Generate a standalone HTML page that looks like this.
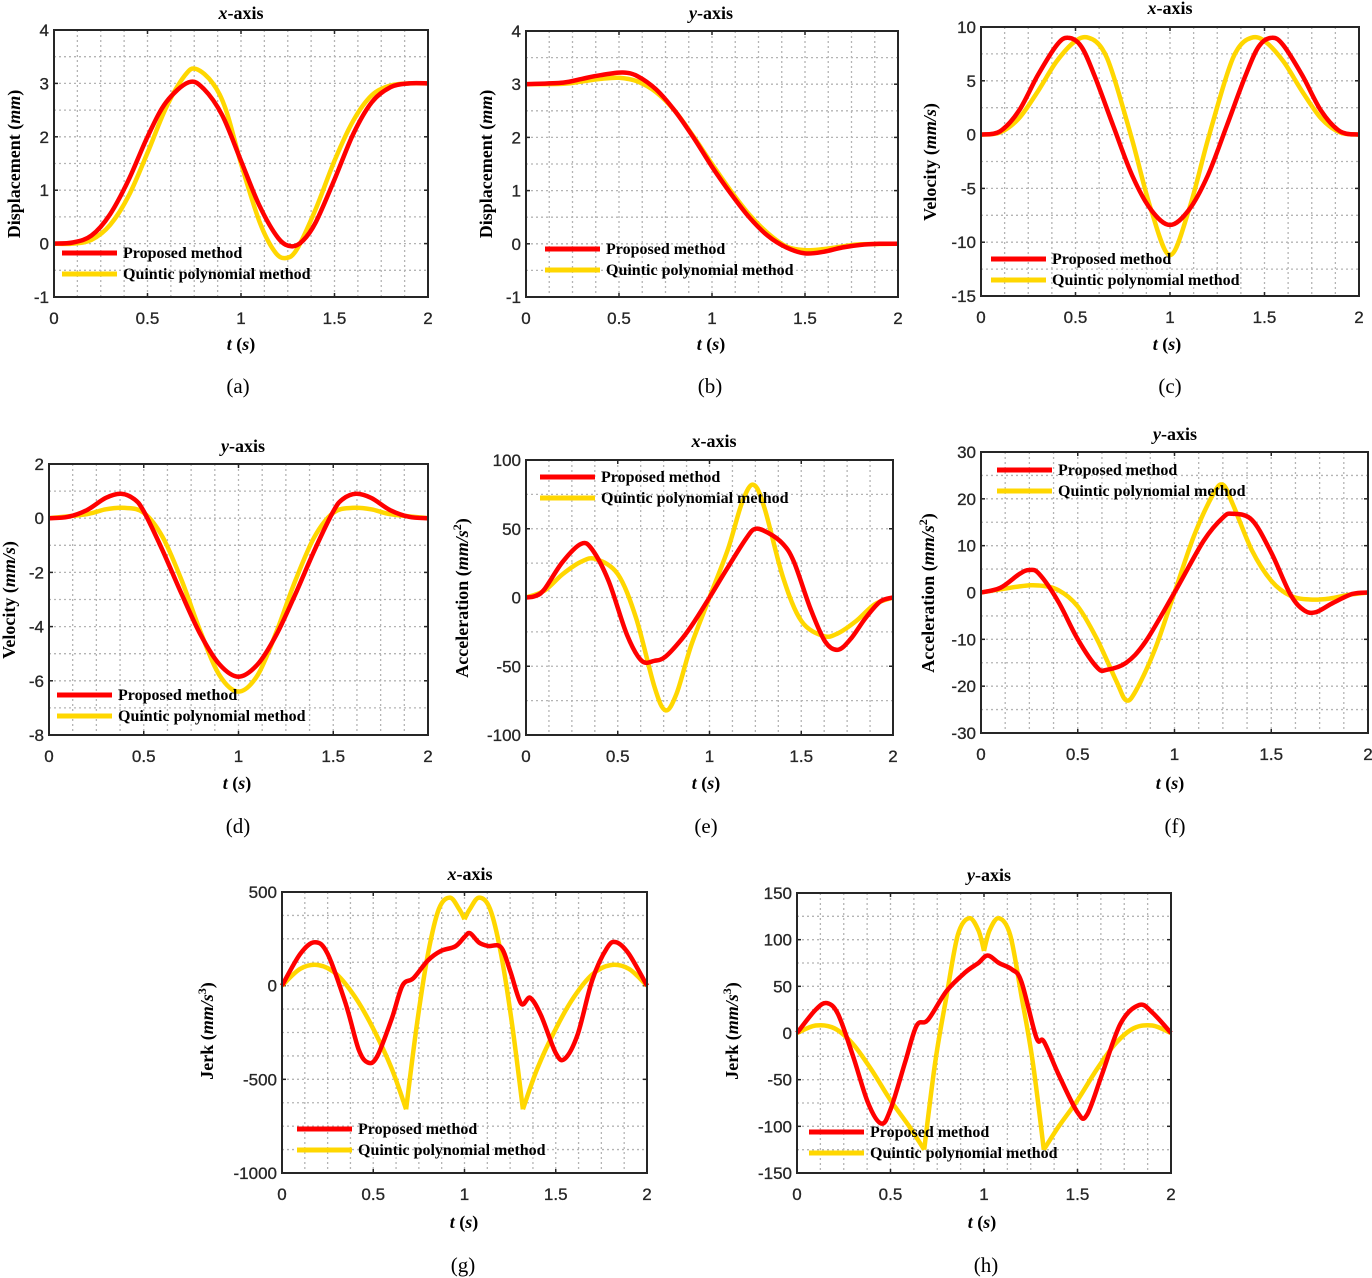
<!DOCTYPE html>
<html><head><meta charset="utf-8">
<style>
html,body{margin:0;padding:0;background:#fff;}
svg{display:block;}
.tk{font-family:"Liberation Sans",Arial,sans-serif;font-size:17px;fill:#262626;stroke:#262626;stroke-width:0.3px;}
.tm{font-family:"Liberation Serif","Times New Roman",serif;font-weight:bold;font-size:18px;fill:#000;}
.lg{font-family:"Liberation Serif","Times New Roman",serif;font-weight:bold;font-size:16px;fill:#000;}
.cap{font-family:"Liberation Serif","Times New Roman",serif;font-size:21px;fill:#000;}
</style></head>
<body>
<svg id="s" width="1372" height="1278" viewBox="0 0 1372 1278" xmlns="http://www.w3.org/2000/svg"></svg>
<script>
const NS="http://www.w3.org/2000/svg";
const S=document.getElementById('s');
function el(t,a,p){const e=document.createElementNS(NS,t);for(const k in a)e.setAttribute(k,a[k]);(p||S).appendChild(e);return e;}
function txt(x,y,html,cls,extra){const e=el('text',Object.assign({x:x,y:y,'class':cls},extra||{}));e.innerHTML=html;return e;}
function sym(pts){const out=pts.slice();for(let i=pts.length-1;i>=0;i--){const [t,v]=pts[i];if(t<1)out.push([2-t,v]);}return out;}
function path(pts,X,Y){
  let d='M'+X(pts[0][0]).toFixed(1)+','+Y(pts[0][1]).toFixed(1);
  for(let i=0;i<pts.length-1;i++){
    const p0=pts[Math.max(0,i-1)],p1=pts[i],p2=pts[i+1],p3=pts[Math.min(pts.length-1,i+2)];
    const x1=X(p1[0]),y1=Y(p1[1]),x2=X(p2[0]),y2=Y(p2[1]);
    const x0=X(p0[0]),y0=Y(p0[1]),x3=X(p3[0]),y3=Y(p3[1]);
    const c1x=x1+(x2-x0)/6,c1y=y1+(y2-y0)/6,c2x=x2-(x3-x1)/6,c2y=y2-(y3-y1)/6;
    d+=' C'+c1x.toFixed(1)+','+c1y.toFixed(1)+' '+c2x.toFixed(1)+','+c2y.toFixed(1)+' '+x2.toFixed(1)+','+y2.toFixed(1);
  }
  return d;
}
const P=[
{b:[54,30,428,297],y:[-1,4],mj:1,mn:0.5,title:'<tspan font-style="italic">x</tspan>-axis',tp:[241,19],yl:'Displacement  (<tspan font-style="italic">mm</tspan>)',ylp:[20,164],xlp:[241,350],cap:['(a)',238,393],lg:[62,253],
 red:[[[0,0],[0.1,0.02],[0.2,0.15],[0.3,0.55],[0.4,1.2],[0.5,2.0],[0.6,2.65],[0.72,3.02],[0.8,2.9],[0.9,2.4],[1.0,1.55],[1.1,0.7],[1.2,0.1],[1.27,-0.05],[1.33,0.05],[1.4,0.4],[1.5,1.2],[1.6,2.05],[1.7,2.65],[1.8,2.93],[1.9,3.0],[2,3.0]]],
 yel:[[[0,0],[0.1,0],[0.2,0.07],[0.3,0.35],[0.4,0.9],[0.5,1.7],[0.6,2.55],[0.7,3.15],[0.76,3.27],[0.85,3.0],[0.92,2.5],[1.0,1.5],[1.1,0.4],[1.18,-0.15],[1.24,-0.27],[1.3,-0.1],[1.4,0.65],[1.5,1.55],[1.6,2.3],[1.7,2.78],[1.8,2.96],[1.9,3.0],[2,3]]]},
{b:[526,31,898,297],y:[-1,4],mj:1,mn:0.5,title:'<tspan font-style="italic">y</tspan>-axis',tp:[711,19],yl:'Displacement  (<tspan font-style="italic">mm</tspan>)',ylp:[492,164],xlp:[711,350],cap:['(b)',710,393],lg:[545,249],
 red:[[[0,3],[0.2,3.03],[0.3,3.1],[0.4,3.17],[0.52,3.22],[0.6,3.15],[0.7,2.9],[0.8,2.5],[0.9,2.0],[1.0,1.45],[1.1,0.95],[1.2,0.5],[1.3,0.15],[1.4,-0.07],[1.5,-0.18],[1.6,-0.15],[1.7,-0.07],[1.8,-0.02],[1.9,0],[2,0]]],
 yel:[[[0,3],[0.2,3.01],[0.3,3.05],[0.4,3.1],[0.5,3.12],[0.6,3.05],[0.7,2.85],[0.8,2.5],[0.9,2.02],[1.0,1.5],[1.1,1.0],[1.2,0.55],[1.3,0.2],[1.4,-0.05],[1.5,-0.12],[1.6,-0.1],[1.7,-0.05],[1.8,-0.01],[2,0]]]},
{b:[981,27,1359,296],y:[-15,10],mj:5,mn:2.5,title:'<tspan font-style="italic">x</tspan>-axis',tp:[1170,14],yl:'Velocity  (<tspan font-style="italic">mm/s</tspan>)',ylp:[936,162],xlp:[1167,350],cap:['(c)',1170,393],lg:[991,259],
 red:[sym([[0,0],[0.1,0.3],[0.2,2.2],[0.3,5.5],[0.4,8.3],[0.46,9],[0.53,8.2],[0.6,5.5],[0.7,0.8],[0.8,-3.8],[0.9,-7],[1.0,-8.4]])],
 yel:[sym([[0,0],[0.1,0.2],[0.2,1.5],[0.3,4],[0.4,6.8],[0.5,8.7],[0.57,9.0],[0.64,8],[0.7,5.5],[0.8,-0.5],[0.9,-7],[1.0,-11.2]])]},
{b:[49,464,428,735],y:[-8,2],mj:2,mn:1,title:'<tspan font-style="italic">y</tspan>-axis',tp:[243,452],yl:'Velocity  (<tspan font-style="italic">mm/s</tspan>)',ylp:[15,600],xlp:[237,789],cap:['(d)',238,833],lg:[57,695],
 red:[sym([[0,0],[0.1,0.05],[0.2,0.3],[0.3,0.75],[0.38,0.9],[0.45,0.7],[0.5,0.25],[0.6,-1.2],[0.7,-2.8],[0.8,-4.3],[0.9,-5.4],[1,-5.85]])],
 yel:[sym([[0,0],[0.2,0.15],[0.3,0.33],[0.4,0.38],[0.5,0.2],[0.6,-0.7],[0.7,-2.3],[0.8,-4.2],[0.9,-5.8],[1,-6.4]])]},
{b:[526,460,893,735],y:[-100,100],mj:50,mn:25,title:'<tspan font-style="italic">x</tspan>-axis',tp:[714,447],yl:'Acceleration  (<tspan font-style="italic">mm/s</tspan><tspan dy="-7" font-size="12">2</tspan><tspan dy="7">)</tspan>',ylp:[468,598],xlp:[706,789],cap:['(e)',706,833],lg:[540,477],
 red:[[[0,0],[0.05,1],[0.1,6],[0.2,26],[0.3,39],[0.36,35],[0.45,12],[0.55,-27],[0.63,-46],[0.7,-46],[0.76,-43],[0.85,-30],[0.92,-17],[1.0,0],[1.1,22],[1.2,43],[1.25,50],[1.32,47],[1.4,39],[1.46,26],[1.55,-8],[1.63,-32],[1.7,-38],[1.77,-30],[1.85,-15],[1.93,-3],[2,0]]],
 yel:[[[0,0],[0.1,5],[0.2,17],[0.3,26],[0.38,28],[0.5,17],[0.6,-15],[0.7,-65],[0.76,-82],[0.82,-70],[0.9,-35],[1.0,0],[1.1,35],[1.18,70],[1.24,82],[1.3,65],[1.4,15],[1.5,-17],[1.62,-28],[1.7,-26],[1.8,-17],[1.9,-5],[2,0]]]},
{b:[981,452,1368,733],y:[-30,30],mj:10,mn:5,title:'<tspan font-style="italic">y</tspan>-axis',tp:[1175,440],yl:'Acceleration  (<tspan font-style="italic">mm/s</tspan><tspan dy="-7" font-size="12">2</tspan><tspan dy="7">)</tspan>',ylp:[934,593],xlp:[1170,789],cap:['(f)',1175,833],lg:[997,470],
 red:[[[0,0],[0.1,1],[0.2,4],[0.25,4.8],[0.3,4],[0.4,-2],[0.5,-10],[0.6,-16],[0.65,-16.5],[0.75,-15],[0.85,-10.5],[1.0,0],[1.15,11],[1.25,16],[1.3,16.8],[1.4,15.5],[1.5,8.5],[1.6,-0.5],[1.67,-3.8],[1.73,-4.2],[1.82,-2.2],[1.92,-0.3],[2,0]]],
 yel:[[[0,0],[0.2,1.3],[0.3,1.5],[0.4,0.5],[0.5,-3],[0.6,-10],[0.7,-19],[0.75,-23],[0.8,-21],[0.9,-12],[1,0],[1.1,12],[1.2,21],[1.25,23],[1.3,19],[1.4,9],[1.5,2.5],[1.6,-0.7],[1.7,-1.5],[1.8,-1.3],[1.9,-0.5],[2,0]]]},
{b:[282,892,647,1173],y:[-1000,500],mj:500,mn:125,title:'<tspan font-style="italic">x</tspan>-axis',tp:[470,880],yl:'Jerk  (<tspan font-style="italic">mm/s</tspan><tspan dy="-7" font-size="12">3</tspan><tspan dy="7">)</tspan>',ylp:[213,1031],xlp:[464,1228],cap:['(g)',463,1272],lg:[297,1129],
 red:[[[0,0],[0.1,170],[0.18,232],[0.25,170],[0.35,-100],[0.42,-340],[0.47,-410],[0.52,-380],[0.6,-180],[0.66,0],[0.72,40],[0.8,135],[0.87,185],[0.95,210],[1.0,260],[1.03,280],[1.08,230],[1.13,212],[1.2,205],[1.25,80],[1.31,-95],[1.36,-65],[1.42,-160],[1.5,-360],[1.55,-390],[1.62,-260],[1.7,30],[1.78,200],[1.83,232],[1.9,170],[2,0]]],
 yel:[[[0,0],[0.1,90],[0.2,110],[0.3,60],[0.4,-60],[0.5,-230],[0.6,-440],[0.68,-660]],[[0.68,-660],[0.74,-200],[0.8,170],[0.86,410],[0.92,470],[0.97,410],[1.0,355]],[[1.0,355],[1.03,410],[1.08,470],[1.14,410],[1.2,170],[1.26,-200],[1.32,-660]],[[1.32,-660],[1.4,-440],[1.5,-230],[1.6,-60],[1.7,60],[1.8,110],[1.9,90],[2,0]]]},
{b:[797,893,1171,1173],y:[-150,150],mj:50,mn:25,title:'<tspan font-style="italic">y</tspan>-axis',tp:[989,881],yl:'Jerk  (<tspan font-style="italic">mm/s</tspan><tspan dy="-7" font-size="12">3</tspan><tspan dy="7">)</tspan>',ylp:[738,1031],xlp:[982,1228],cap:['(h)',986,1272],lg:[809,1132],
 red:[[[0,0],[0.1,25],[0.16,32],[0.22,20],[0.3,-25],[0.38,-75],[0.45,-97],[0.5,-82],[0.58,-30],[0.64,8],[0.7,14],[0.8,45],[0.9,65],[0.97,75],[1.02,83],[1.08,75],[1.15,68],[1.2,55],[1.28,-5],[1.32,-9],[1.4,-45],[1.5,-85],[1.55,-88],[1.63,-45],[1.73,10],[1.83,30],[1.9,22],[2,0]]],
 yel:[[[0,0],[0.1,8],[0.2,5],[0.3,-12],[0.4,-40],[0.5,-72],[0.6,-100],[0.68,-125]],[[0.68,-125],[0.74,-30],[0.8,40],[0.86,105],[0.92,123],[0.97,110],[1.0,88]],[[1.0,88],[1.03,110],[1.08,123],[1.14,105],[1.2,40],[1.26,-30],[1.32,-125]],[[1.32,-125],[1.4,-100],[1.5,-72],[1.6,-40],[1.7,-12],[1.8,5],[1.9,8],[2,0]]]}
];
for(const p of P){
  const [x0,y0,x1,y1]=p.b;const [ymin,ymax]=p.y;
  const X=t=>x0+(x1-x0)*t/2, Y=v=>y1-(y1-y0)*(v-ymin)/(ymax-ymin);
  el('rect',{x:x0,y:y0,width:x1-x0,height:y1-y0,fill:'#fff'});
  const g=el('g',{stroke:'#b4b4b4','stroke-width':1.3,'stroke-dasharray':'2,3'});
  for(let t=0.125;t<2;t+=0.125){const x=X(t);el('line',{x1:x,y1:y0,x2:x,y2:y1},g);}
  for(let v=ymin+p.mn;v<ymax-1e-9;v+=p.mn){const y=Y(v);el('line',{x1:x0,y1:y,x2:x1,y2:y},g);}
  for(let t=0;t<=2;t+=0.5){const x=X(t);el('line',{x1:x,y1:y1,x2:x,y2:y1-4,stroke:'#262626','stroke-width':1.5});el('line',{x1:x,y1:y0,x2:x,y2:y0+4,stroke:'#262626','stroke-width':1.5});
    txt(x,y1+27,String(t),'tk',{'text-anchor':'middle'});}
  for(let v=ymin;v<=ymax+1e-9;v+=p.mj){const y=Y(v);el('line',{x1:x0,y1:y,x2:x0+4,y2:y,stroke:'#262626','stroke-width':1.5});el('line',{x1:x1,y1:y,x2:x1-4,y2:y,stroke:'#262626','stroke-width':1.5});
    txt(x0-5,y+6,String(v),'tk',{'text-anchor':'end'});}
  for(const seg of p.yel)el('path',{d:path(seg,X,Y),fill:'none',stroke:'#FFD700','stroke-width':4.5,'stroke-linejoin':'round'});
  for(const seg of p.red)el('path',{d:path(seg,X,Y),fill:'none',stroke:'#FF0000','stroke-width':4.5,'stroke-linejoin':'round'});
  el('rect',{x:x0,y:y0,width:x1-x0,height:y1-y0,fill:'none',stroke:'#262626','stroke-width':2});
  const [lx,ly]=p.lg;
  el('line',{x1:lx,y1:ly,x2:lx+55,y2:ly,stroke:'#FF0000','stroke-width':5});
  el('line',{x1:lx,y1:ly+21,x2:lx+55,y2:ly+21,stroke:'#FFD700','stroke-width':5});
  txt(lx+61,ly+5,'Proposed method','lg');
  txt(lx+61,ly+26,'Quintic polynomial method','lg');
  txt(p.tp[0],p.tp[1],p.title,'tm',{'text-anchor':'middle'});
  txt(p.xlp[0],p.xlp[1],'<tspan font-style="italic">t</tspan>  (<tspan font-style="italic">s</tspan>)','tm',{'text-anchor':'middle','xml:space':'preserve'});
  txt(0,0,p.yl,'tm',{'text-anchor':'middle',transform:'translate('+p.ylp[0]+','+p.ylp[1]+') rotate(-90)','xml:space':'preserve'});
  txt(p.cap[1],p.cap[2],p.cap[0],'cap',{'text-anchor':'middle'});
}
</script>
</body></html>
